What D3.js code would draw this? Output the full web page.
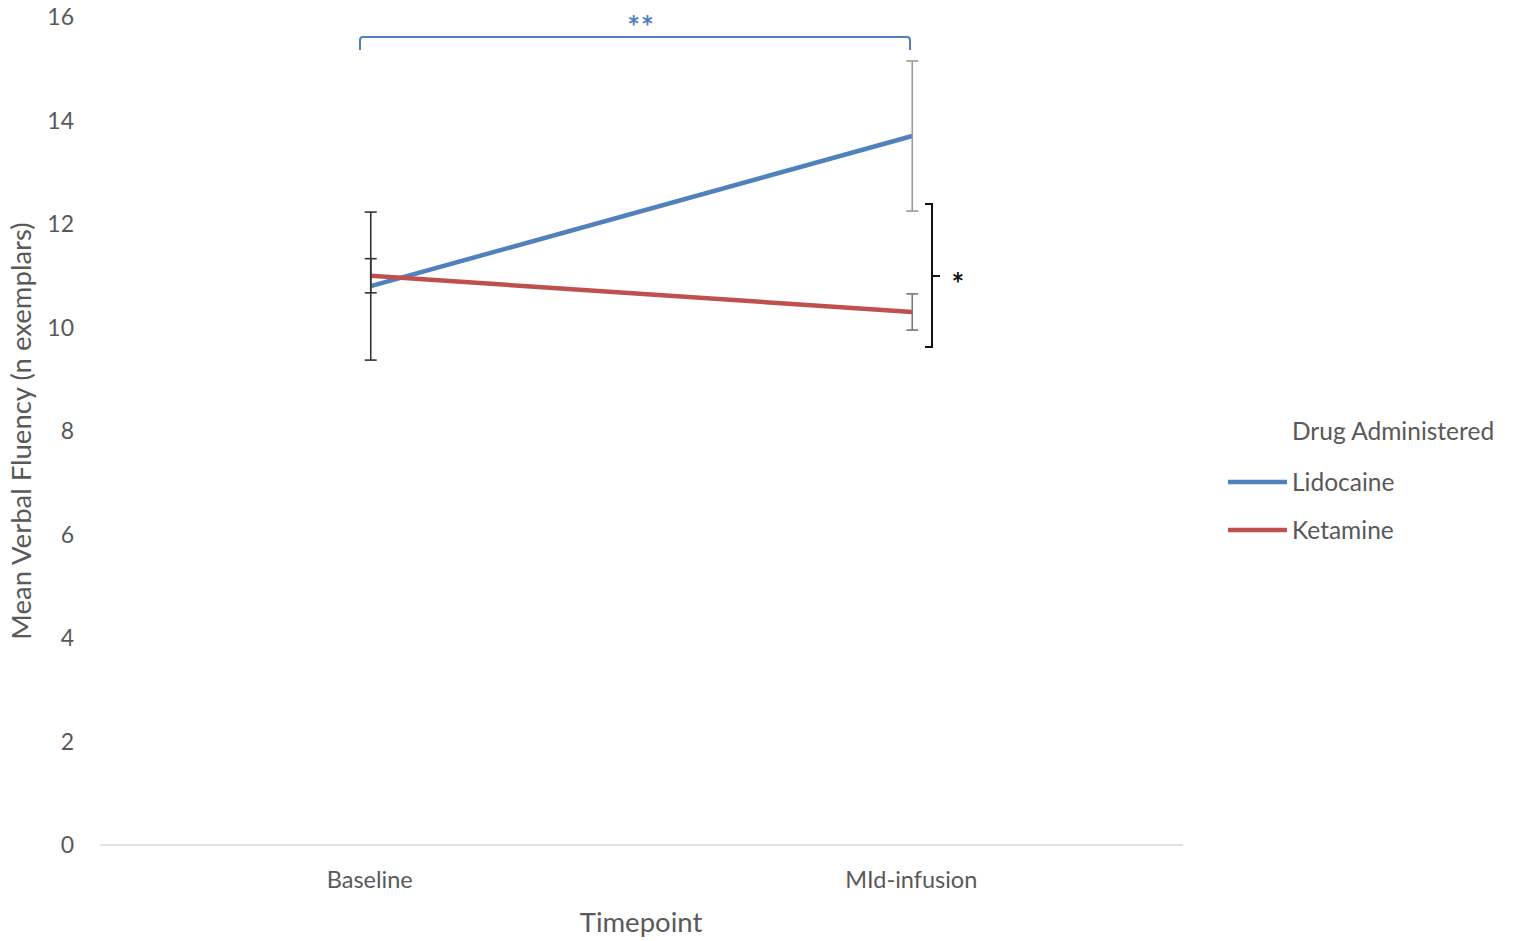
<!DOCTYPE html>
<html><head><meta charset="utf-8">
<script src="https://cdn.jsdelivr.net/npm/d3@7"></script>
<style>body{margin:0;background:#fff;} text{font-family:Lato, "Open Sans", sans-serif;}</style>
</head><body>
<svg id="c" width="1513" height="941"></svg>
<script>
const categories = ["Baseline", "MId-infusion"];
const seriesNames = ["Lidocaine", "Ketamine"];
const lidocaine = [10.8, 13.7];
const ketamine = [11.0, 10.3];
const lidocaineErr = [1.43, 1.45];
const ketamineErr = [0.33, 0.35];
const yTicks = [0, 2, 4, 6, 8, 10, 12, 14, 16];
const colors = ["#4F81BD", "#C0504D"];

const svg = d3.select("#c");
const x = d3.scalePoint().domain(categories).range([370.75, 912.25]);
const y = d3.scaleLinear().domain([0, 16]).range([845, 17]);

// x axis line
svg.append("line").attr("x1", 100).attr("x2", 1183).attr("y1", y(0)).attr("y2", y(0))
  .attr("stroke", "#d9d9d9").attr("stroke-width", 1.5);

// y tick labels
svg.selectAll(".yt").data(yTicks).enter().append("text")
  .attr("x", 74).attr("y", d => y(d)).attr("dy", "0.35em").attr("text-anchor", "end")
  .attr("font-size", 23).attr("fill", "#595959").text(d => d);

// x tick labels
svg.selectAll(".xt").data(categories).enter().append("text")
  .attr("x", d => x(d) - 1).attr("y", 888).attr("text-anchor", "middle")
  .attr("font-size", 23.5).attr("fill", "#595959").text(d => d);

svg.append("text").attr("x", 641).attr("y", 932).attr("text-anchor", "middle")
  .attr("font-size", 27.5).attr("fill", "#595959").text("Timepoint");
svg.append("text").attr("transform", "translate(31,431) rotate(-90)").attr("text-anchor", "middle")
  .attr("font-size", 27.5).attr("fill", "#595959").text("Mean Verbal Fluency (n exemplars)");

const series = [
  {name: seriesNames[0], vals: lidocaine, err: lidocaineErr, color: colors[0], ebColor: ["#333", "#999"]},
  {name: seriesNames[1], vals: ketamine, err: ketamineErr, color: colors[1], ebColor: ["#333", "#777"]}
];
const line = d3.line().x((d, i) => x(categories[i])).y(d => y(d));

// lines
series.forEach(s => {
  svg.append("path").attr("d", line(s.vals)).attr("fill", "none")
    .attr("stroke", s.color).attr("stroke-width", 4.5);
});
// error bars
series.forEach(s => {
  s.vals.forEach((v, i) => {
    const cx = x(categories[i]);
    const g = svg.append("g").attr("stroke", s.ebColor[i]).attr("stroke-width", 1.6);
    g.append("line").attr("x1", cx).attr("x2", cx).attr("y1", y(v + s.err[i])).attr("y2", y(v - s.err[i]));
    [v + s.err[i], v - s.err[i]].forEach(e => {
      g.append("line").attr("x1", cx - 6).attr("x2", cx + 6).attr("y1", y(e)).attr("y2", y(e));
    });
  });
});

// top significance bracket
const by = 37;
svg.append("path")
  .attr("d", `M360,50 L360,${by+3} Q360,${by} 363,${by} L907,${by} Q910,${by} 910,${by+3} L910,50`)
  .attr("fill", "none").attr("stroke", colors[0]).attr("stroke-width", 2);
svg.append("text").attr("x", 641).attr("y", 38).attr("text-anchor", "middle")
  .attr("font-size", 30).attr("font-weight", "bold").attr("letter-spacing", 1).attr("fill", colors[0]).text("**");

// right bracket
svg.append("path")
  .attr("d", "M925,204 L932,204 L932,347 L925,347 M932,276 L940,276")
  .attr("fill", "none").attr("stroke", "#111").attr("stroke-width", 2);
svg.append("text").attr("x", 958).attr("y", 295).attr("text-anchor", "middle")
  .attr("font-size", 30).attr("font-weight", "bold").attr("fill", "#111").text("*");

// legend
svg.append("text").attr("x", 1292).attr("y", 440).attr("font-size", 24.5).attr("fill", "#595959").text("Drug Administered");
series.forEach((s, i) => {
  const ly = 482 + i * 48;
  svg.append("line").attr("x1", 1228).attr("x2", 1287).attr("y1", ly).attr("y2", ly)
    .attr("stroke", s.color).attr("stroke-width", 4.5);
  svg.append("text").attr("x", 1292).attr("y", ly).attr("dy", "0.35em").attr("font-size", 24.5)
    .attr("fill", "#595959").text(s.name);
});
</script>
</body></html>
